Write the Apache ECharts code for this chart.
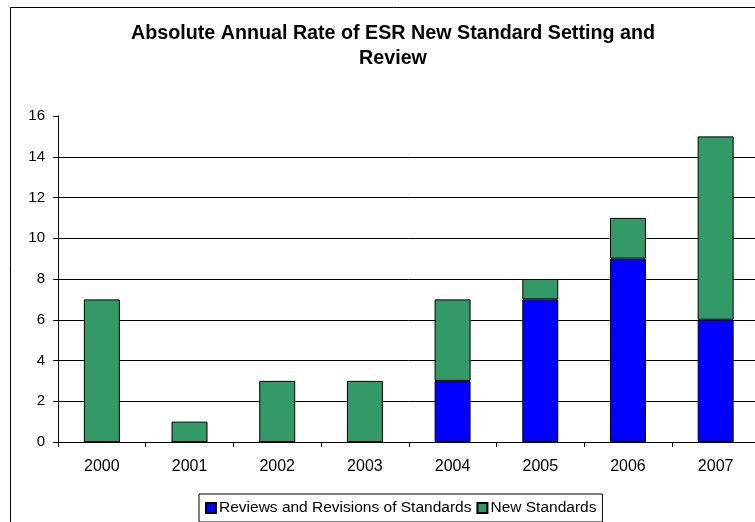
<!DOCTYPE html>
<html><head><meta charset="utf-8">
<script src="https://cdn.jsdelivr.net/npm/echarts@6/dist/echarts.min.js"></script>
<style>html,body{margin:0;padding:0;background:#fff;overflow:hidden}#c{width:776px;height:522px}</style>
</head><body><div id="c"></div>
<script>
const titleText = 'Absolute Annual Rate of ESR New Standard Setting and\nReview';
const categories = ['2000','2001','2002','2003','2004','2005','2006','2007'];
const reviews = [0,0,0,0,3,7,9,6];
const newStandards = [7,1,3,3,4,1,2,9];
const yTicks = {min:0, max:16, interval:2};
const FONT = 'Liberation Sans, Arial, sans-serif';

const chart = echarts.init(document.getElementById('c'), null, {renderer:'canvas'});
chart.setOption({
  animation:false,
  backgroundColor:'#fff',
  textStyle:{fontFamily:FONT},
  title:{text:titleText, left:393, top:21, padding:0, textAlign:'center',
    textStyle:{fontFamily:FONT, fontSize:19.7, fontWeight:'bold', color:'#000', lineHeight:25}},
  graphic:[{type:'rect', shape:{x:10.5,y:7.5,width:770,height:530}, style:{fill:null, stroke:'#000', lineWidth:1}, silent:true, z:-1}],
  grid:{left:58, right:16.5, top:116, bottom:80, containLabel:false},
  legend:{bottom:0, left:199, itemWidth:10, itemHeight:10, itemGap:5,
    borderColor:'#000', borderWidth:1, padding:[6,6,6,6],
    textStyle:{fontFamily:FONT, fontSize:15.5, color:'#000', padding:[0,0,0,-2], lineHeight:16},
    data:[{name:'Reviews and Revisions of Standards', icon:'rect'},{name:'New Standards', icon:'rect'}]},
  xAxis:{type:'category', data:categories,
    axisLine:{lineStyle:{color:'#000', width:1}},
    axisTick:{show:true, length:5, inside:false, lineStyle:{color:'#000'}},
    axisLabel:{fontFamily:FONT, fontSize:16, color:'#000', margin:17}},
  yAxis:{type:'value', min:yTicks.min, max:yTicks.max, interval:yTicks.interval,
    axisLine:{show:true, lineStyle:{color:'#000', width:1}},
    axisTick:{show:true, length:5, lineStyle:{color:'#000'}},
    axisLabel:{fontFamily:FONT, fontSize:15, color:'#000', margin:13},
    splitLine:{show:true, lineStyle:{color:['#000','#000','#000','#000','#000','#000','#000','#000','transparent'], width:1}}},
  series:[
    {name:'Reviews and Revisions of Standards', type:'bar', stack:'s', data:reviews, barWidth:'41%',
      itemStyle:{color:'#0000FF', borderColor:'#000', borderWidth:1}},
    {name:'New Standards', type:'bar', stack:'s', data:newStandards, barWidth:'41%',
      itemStyle:{color:'#339966', borderColor:'#000', borderWidth:1}}
  ]
});
</script></body></html>
